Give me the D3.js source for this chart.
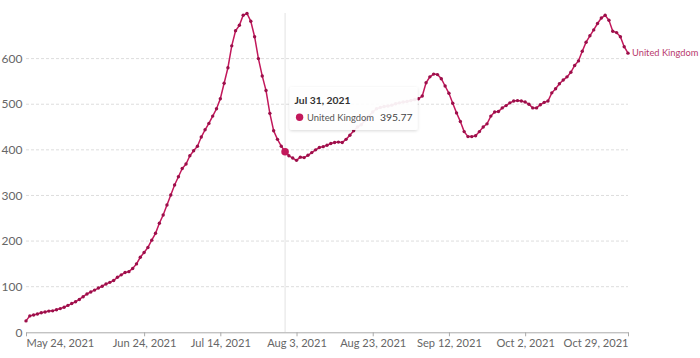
<!DOCTYPE html>
<html><head><meta charset="utf-8">
<script src="https://cdn.jsdelivr.net/npm/d3@7"></script>
<style>
html,body{margin:0;padding:0;background:#fff;}
svg{display:block;font-family:Lato,"Noto Sans",sans-serif;}
</style></head>
<body><svg id="c" width="700" height="358"></svg>
<script>
const startDate = "2021-05-24";
const seriesName = "United Kingdom";
const values = [
25,36,38,40,43,44.5,46.5,47,49.5,52,55,59,63,67,72,78,84,88.5,92.5,97,
101,106,109.5,113.5,120.6,126,131,133,140,150,164.5,175,186,202,217,239,257,279,
301,323,341,359,369,387,398,408,428,444,458,474,490,512,546,580,628,661,673,695,
699,682,648,600,562,530,480,442,423,408,395.77,387,382,377,384,383,
388,394,400,405,407,410,414,416,417,416,423,432,442,450,
455,465,474,483,490,493,495,496,498,501,503,505,506,508,510,512,518,547,
560,566,565,556,540,524,502,481,462,440,429,
429,431,440,450,457,474,483,484,492,497,503,507,508,507,505,500,492,492,499,504,
507,525,534,545,553,560,570,585,595,616,636,650,663,677,689,695,684,660,657,648,626,612
];
const xTickLabels = ["2021-05-24","2021-06-24","2021-07-14","2021-08-03","2021-08-23","2021-09-12","2021-10-02","2021-10-29"];
const yTicks = [0,100,200,300,400,500,600];
const hoverDate = "2021-07-31";

const parse = d3.utcParse("%Y-%m-%d");
const t0 = parse(startDate);
const data = values.map((v,i)=>({date:d3.utcDay.offset(t0,i), value:v}));
const svg = d3.select("#c");
const x = d3.scaleUtc().domain([t0, data[data.length-1].date]).range([26,628]);
const y = d3.scaleLinear().domain([0,700]).range([332.3,13]);
const lineColor = "#c2185b";
const fmt = d3.utcFormat("%b %-d, %Y");

// grid
svg.append("g").selectAll("line").data(yTicks.filter(d=>d>0)).join("line")
  .attr("x1",26).attr("x2",628).attr("y1",d=>y(d)).attr("y2",d=>y(d))
  .attr("stroke","#ddd").attr("stroke-dasharray","3,2");
// y labels
svg.append("g").selectAll("text").data(yTicks).join("text")
  .attr("x",22.5).attr("y",d=>y(d)).attr("dy","0.35em").attr("text-anchor","end")
  .attr("fill","#666").attr("font-size",12).text(d=>d);
// x axis
const xt = xTickLabels.map(parse);
const xa = d3.axisBottom(x).tickValues(xt).tickFormat(fmt).tickSize(4).tickSizeOuter(0);
const gx = svg.append("g").attr("transform","translate(0,332.3)").call(xa);
gx.select(".domain").attr("stroke","#aaa");
gx.selectAll(".tick line").attr("stroke","#aaa");
gx.selectAll(".tick text").attr("fill","#666").attr("font-size",11.1)
  .attr("font-family","Lato,'Noto Sans',sans-serif")
  .attr("text-anchor",(d,i)=> i===0 ? "start" : (i===xt.length-1 ? "end" : "middle"));

// hover line
const hd = parse(hoverDate);
svg.append("line").attr("x1",x(hd)).attr("x2",x(hd)).attr("y1",13).attr("y2",332)
  .attr("stroke","#e2e2e2").attr("stroke-width",1);

// line
svg.append("path").datum(data).attr("fill","none").attr("stroke",lineColor).attr("stroke-width",1.5)
  .attr("d",d3.line().x(d=>x(d.date)).y(d=>y(d.value)));
svg.append("g").selectAll("circle").data(data).join("circle")
  .attr("cx",d=>x(d.date)).attr("cy",d=>y(d.value)).attr("r",1.7).attr("fill","#9c0f4a");
const hp = data.find(d=>+d.date===+hd);
svg.append("circle").attr("cx",x(hp.date)).attr("cy",y(hp.value)).attr("r",3.8).attr("fill",lineColor);

// end label
const last = data[data.length-1];
svg.append("text").attr("x",x(last.date)+4).attr("y",y(last.value)).attr("dy","0.35em")
  .attr("fill","#b83a6d").attr("font-size",9.3).text(seriesName);

// tooltip
const defs = svg.append("defs");
const f = defs.append("filter").attr("id","sh").attr("x","-10%").attr("y","-20%").attr("width","120%").attr("height","150%");
f.append("feDropShadow").attr("dx",0).attr("dy",1).attr("stdDeviation",1.5).attr("flood-color","#000").attr("flood-opacity",0.16);
const tx = x(hd)+4.5, ty = 87;
const tg = svg.append("g");
tg.append("rect").attr("x",tx).attr("y",ty).attr("width",128).attr("height",43).attr("rx",2)
  .attr("fill","#fff").attr("fill-opacity",0.92).attr("filter","url(#sh)");
tg.append("text").attr("x",tx+5).attr("y",ty+17).attr("font-size",10.3).attr("font-weight","bold")
  .attr("fill","#333").text(fmt(hd));
tg.append("circle").attr("cx",tx+10).attr("cy",ty+30.3).attr("r",3.7).attr("fill",lineColor);
tg.append("text").attr("x",tx+17.5).attr("y",ty+30.3).attr("dy","0.35em").attr("font-size",9.4)
  .attr("fill","#555").text(seriesName);
tg.append("text").attr("x",tx+123).attr("y",ty+30.3).attr("dy","0.35em").attr("font-size",10.4)
  .attr("text-anchor","end").attr("fill","#444").text(hp.value.toFixed(2));
</script></body></html>
